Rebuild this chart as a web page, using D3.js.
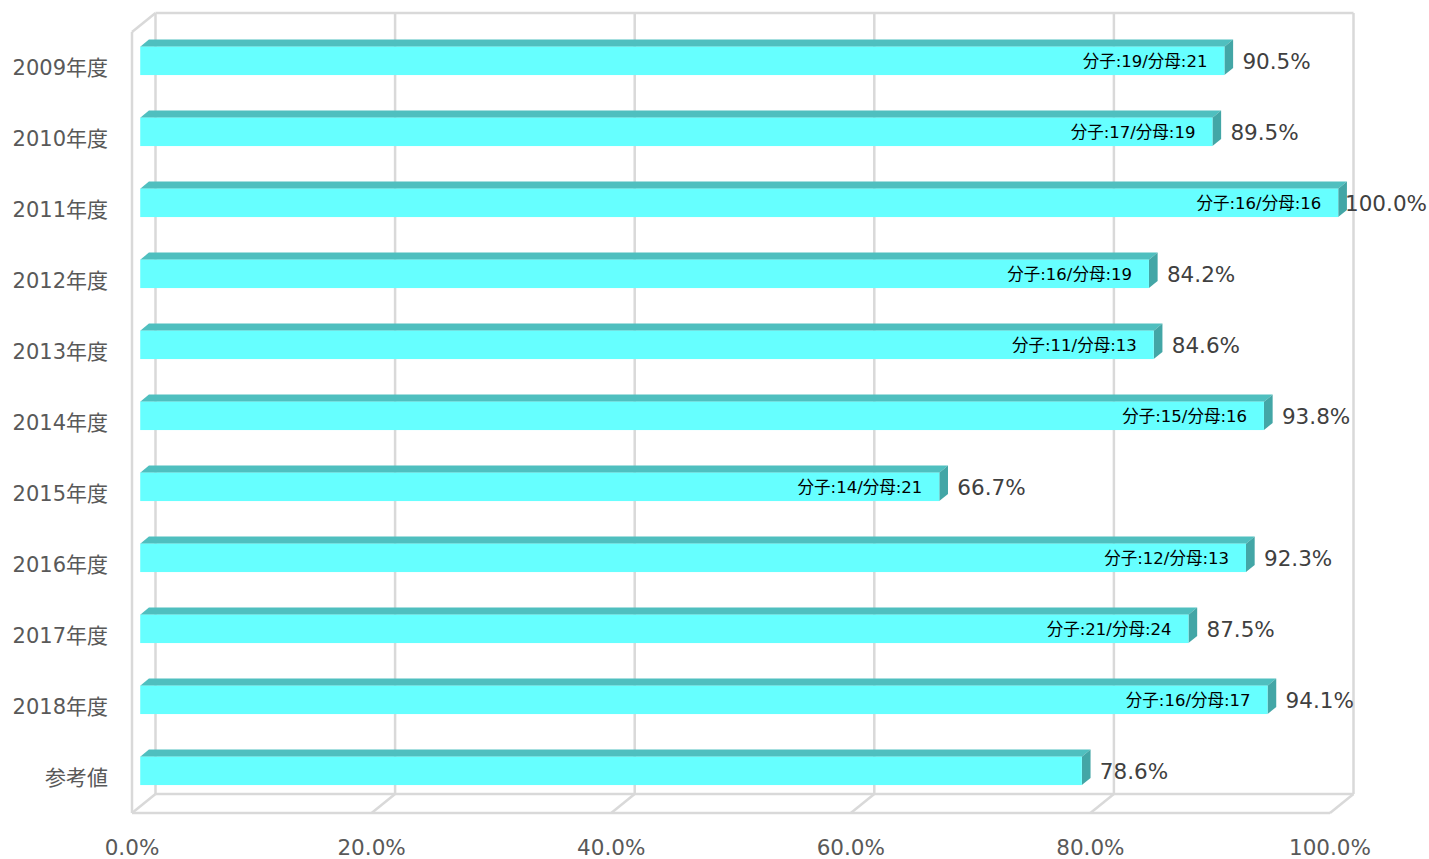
<!DOCTYPE html>
<html>
<head>
<meta charset="utf-8">
<script src="https://cdn.jsdelivr.net/npm/d3@7"></script>
<style>
  html, body { margin: 0; padding: 0; background: #fff; }
  svg { display: block; font-family: "DejaVu Sans", "Noto Sans CJK JP", sans-serif; }
</style>
</head>
<body>
<svg id="chart" width="1429" height="859"></svg>
<script>
// Fiscal years plus the reference value row
const categories = ["2009年度", "2010年度", "2011年度", "2012年度", "2013年度",
  "2014年度", "2015年度", "2016年度", "2017年度", "2018年度", "参考値"];
// Rate in percent for each row
const rates = [90.5, 89.5, 100.0, 84.2, 84.6, 93.8, 66.7, 92.3, 87.5, 94.1, 78.6];
// Numerator / denominator shown inside each bar (reference row has none)
const numerators = [19, 17, 16, 16, 11, 15, 14, 12, 21, 16, null];
const denominators = [21, 19, 16, 19, 13, 16, 21, 13, 24, 17, null];
// Axis ticks in percent
const xTicks = [0, 20, 40, 60, 80, 100];

(function draw() {
  const W = 1429, H = 859;
  const svg = d3.select("#chart");

  // Front plane of the 3D box and its depth vector (front -> back)
  const pl = 132, pr = 1330, pt = 32, pb = 813;
  const DX = 23.5, DY = 19;
  // Bars sit in the middle of the depth
  const d0 = 0.35, d1 = 0.72;

  const x = d3.scaleLinear().domain([0, 100]).range([pl, pr]);
  const y = d3.scaleBand().domain(categories).range([pt, pb])
    .paddingInner(0.6).paddingOuter(0.3);

  const grid = svg.append("g").attr("stroke", "#d9d9d9")
    .attr("stroke-width", 2.5).attr("fill", "none");

  // Back wall vertical gridlines
  grid.selectAll("line.back").data(xTicks).join("line").attr("class", "back")
    .attr("x1", d => x(d) + DX).attr("x2", d => x(d) + DX)
    .attr("y1", pt - DY).attr("y2", pb - DY);
  // Floor diagonals
  grid.selectAll("line.floor").data(xTicks).join("line").attr("class", "floor")
    .attr("x1", d => x(d)).attr("y1", pb)
    .attr("x2", d => x(d) + DX).attr("y2", pb - DY);
  // Box outline
  const outline = [
    [[pl, pb], [pr, pb]],
    [[pl, pt], [pl, pb]],
    [[pl, pt], [pl + DX, pt - DY]],
    [[pl + DX, pt - DY], [pr + DX, pt - DY]],
    [[pl + DX, pb - DY], [pr + DX, pb - DY]]
  ];
  grid.selectAll("line.box").data(outline).join("line").attr("class", "box")
    .attr("x1", d => d[0][0]).attr("y1", d => d[0][1])
    .attr("x2", d => d[1][0]).attr("y2", d => d[1][1]);

  const rows = categories.map((c, i) => ({
    cat: c, v: rates[i], n: numerators[i], m: denominators[i]
  }));

  const ox = DX * d0, oy = DY * d0;
  const ddx = DX * (d1 - d0), ddy = DY * (d1 - d0);

  const bars = svg.append("g").selectAll("g").data(rows).join("g");

  bars.each(function(d) {
    const g = d3.select(this);
    const xa = x(0) + ox, xb = x(d.v) + ox;
    const ya = y(d.cat) - oy, yb = ya + y.bandwidth();
    // top face
    g.append("polygon")
      .attr("points", [[xa, ya], [xb, ya], [xb + ddx, ya - ddy], [xa + ddx, ya - ddy]].join(" "))
      .attr("fill", "#4fbfbf");
    // side face
    g.append("polygon")
      .attr("points", [[xb, ya], [xb + ddx, ya - ddy], [xb + ddx, yb - ddy], [xb, yb]].join(" "))
      .attr("fill", "#43a6a6");
    // front face
    g.append("rect")
      .attr("x", xa).attr("y", ya)
      .attr("width", xb - xa).attr("height", yb - ya)
      .attr("fill", "#66ffff");
    // numerator/denominator label inside the bar
    if (d.n != null) {
      g.append("text")
        .attr("x", xb - 17).attr("y", (ya + yb) / 2 + 1)
        .attr("text-anchor", "end").attr("dominant-baseline", "central")
        .attr("font-size", 16.5).attr("fill", "#000")
        .text(`分子:${d.n}/分母:${d.m}`);
    }
    // value label to the right of the bar
    const t = g.append("text")
      .attr("x", xb + 18).attr("y", (ya + yb) / 2 + 1)
      .attr("dominant-baseline", "central")
      .attr("font-size", 21.5).attr("fill", "#404040")
      .text(d.v.toFixed(1) + "%");
    const tw = t.node().getComputedTextLength();
    if (xb + 18 + tw > W - 2) t.attr("x", W - 2 - tw);
  });

  // Category labels
  svg.append("g").selectAll("text").data(categories).join("text")
    .attr("x", 108).attr("y", d => y(d) + y.bandwidth() / 2)
    .attr("text-anchor", "end").attr("dominant-baseline", "central")
    .attr("font-size", 21).attr("fill", "#595959")
    .text(d => d);

  // X axis tick labels
  svg.append("g").selectAll("text").data(xTicks).join("text")
    .attr("x", d => x(d)).attr("y", 847)
    .attr("text-anchor", "middle").attr("dominant-baseline", "central")
    .attr("font-size", 21.5).attr("fill", "#595959")
    .text(d => d.toFixed(1) + "%");
})();
</script>
</body>
</html>
